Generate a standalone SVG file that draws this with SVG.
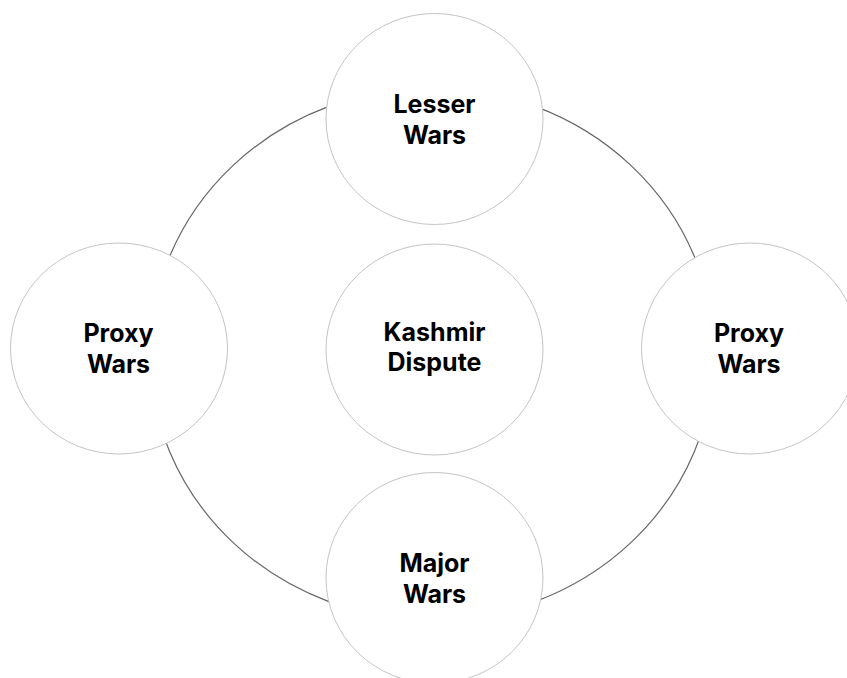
<svg xmlns="http://www.w3.org/2000/svg" width="847" height="678" viewBox="0 0 847 678">
<style>
.node{fill:#ffffff;stroke:#c4c4c4;stroke-width:1}
.lbl{font-family:Inter,"Liberation Sans",sans-serif;font-weight:700;font-size:25px;fill:#000000;text-anchor:middle}
.conn{fill:none;stroke:#666666;stroke-width:1.2}
</style>
<rect width="847" height="678" fill="#ffffff"/>
<g id="connectors">
<ellipse class="conn" cx="432" cy="354" rx="282" ry="266"/>
</g>
<g id="node-lesser">
<ellipse class="node" cx="434.5" cy="119" rx="108.5" ry="105.5"/>
<text class="lbl" x="434.5" y="113">Lesser</text>
<text class="lbl" x="434.5" y="143.5">Wars</text>
</g>
<g id="node-proxy-left">
<ellipse class="node" cx="119" cy="348.5" rx="108.5" ry="105.5"/>
<text class="lbl" x="118.5" y="341.5">Proxy</text>
<text class="lbl" x="118.5" y="372.5">Wars</text>
</g>
<g id="node-kashmir">
<ellipse class="node" cx="434.5" cy="349.5" rx="108.5" ry="105.5"/>
<text class="lbl" x="434.5" y="341">Kashmir</text>
<text class="lbl" x="434.5" y="371">Dispute</text>
</g>
<g id="node-proxy-right">
<ellipse class="node" cx="750" cy="348.5" rx="108.5" ry="105.5"/>
<text class="lbl" x="749" y="341.5">Proxy</text>
<text class="lbl" x="749" y="372.5">Wars</text>
</g>
<g id="node-major">
<ellipse class="node" cx="434.5" cy="578" rx="108.5" ry="105.5"/>
<text class="lbl" x="434.5" y="572">Major</text>
<text class="lbl" x="434.5" y="603">Wars</text>
</g>
</svg>
